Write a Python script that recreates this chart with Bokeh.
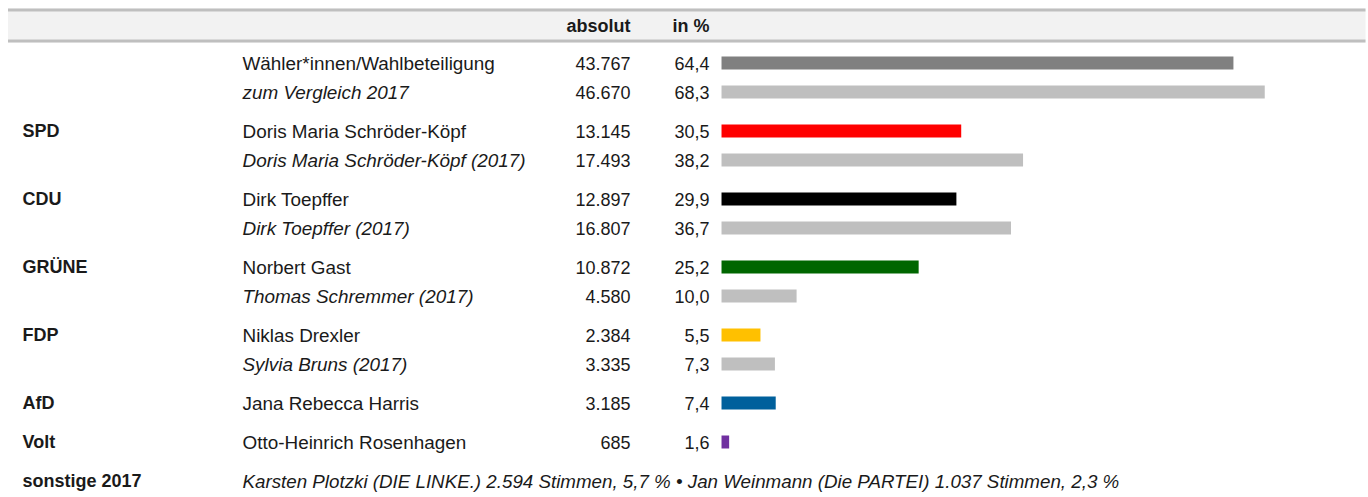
from bokeh.plotting import figure
from bokeh.models import Range1d, ColumnDataSource
from bokeh.core.properties import value
from bokeh.embed import file_html
from bokeh.resources import INLINE

# ---------------- data ----------------
parties = ["", "", "SPD", "", "CDU", "", "GRÜNE", "", "FDP", "", "AfD", "Volt"]
names = ["Wähler*innen/Wahlbeteiligung", "zum Vergleich 2017",
         "Doris Maria Schröder-Köpf", "Doris Maria Schröder-Köpf (2017)",
         "Dirk Toepffer", "Dirk Toepffer (2017)",
         "Norbert Gast", "Thomas Schremmer (2017)",
         "Niklas Drexler", "Sylvia Bruns (2017)",
         "Jana Rebecca Harris", "Otto-Heinrich Rosenhagen"]
absolut = [43767, 46670, 13145, 17493, 12897, 16807, 10872, 4580, 2384, 3335, 3185, 685]
percent = [64.4, 68.3, 30.5, 38.2, 29.9, 36.7, 25.2, 10.0, 5.5, 7.3, 7.4, 1.6]
is_2017 = [False, True, False, True, False, True, False, True, False, True, False, False]
groups = [0, 0, 1, 1, 2, 2, 3, 3, 4, 4, 5, 6]
colors = ["#808080", "#bfbfbf", "#ff0000", "#bfbfbf", "#000000", "#bfbfbf",
          "#006600", "#bfbfbf", "#ffc000", "#bfbfbf", "#00609c", "#7030a0"]
header_abs = "absolut"
header_pct = "in %"
footer_party = "sonstige 2017"
footer_text = "Karsten Plotzki (DIE LINKE.) 2.594 Stimmen, 5,7 % \u2022 Jan Weinmann (Die PARTEI) 1.037 Stimmen, 2,3 %"

# ---------------- layout ----------------
W, H = 1368, 497
FONT = value("Liberation Sans")
FS = "18px"
FS_NAME = "18.9px"
FS_FOOT = "18.75px"
TXT = "#1a1a1a"
X_PARTY, X_NAME, X_ABS, X_PCT = 22, 242, 630, 709
PCT_ZERO_PX, PX_PER_PCT = 715.8, 8.03
BAR_LEFT = 0.65
BAR_H = 13
Y_FIRST, ROW_STEP, GROUP_STEP = 62.5, 29, 39
BAND_L, BAND_R, BAND_T, BAND_B, BAND_LINE = 7.5, 1365, 8, 42, 3

def fmt_abs(v):
    return f"{v:,}".replace(",", ".")

def fmt_pct(v):
    return f"{v:.1f}".replace(".", ",")

# row y positions (pixels from top)
ys = []
y = Y_FIRST
for i, g in enumerate(groups):
    if i > 0:
        y += ROW_STEP if g == groups[i - 1] else GROUP_STEP
    ys.append(y)
y_footer = ys[-1] + GROUP_STEP
y_header = (BAND_T + BAND_B) / 2

p = figure(width=W, height=H, x_range=Range1d(0, W), y_range=Range1d(H, 0),
           output_backend="svg", toolbar_location=None, min_border=0,
           x_axis_type=None, y_axis_type=None)
p.xgrid.visible = False
p.ygrid.visible = False
p.outline_line_color = None
p.background_fill_color = "white"
p.border_fill_color = "white"
p.extra_x_ranges = {"pct": Range1d(-PCT_ZERO_PX / PX_PER_PCT, (W - PCT_ZERO_PX) / PX_PER_PCT)}

# header band
p.quad(left=[BAND_L], right=[BAND_R], top=[BAND_T], bottom=[BAND_B],
       fill_color="#f2f2f2", line_color=None)
p.quad(left=[BAND_L, BAND_L], right=[BAND_R, BAND_R],
       top=[BAND_T, BAND_B - BAND_LINE], bottom=[BAND_T + BAND_LINE, BAND_B],
       fill_color="#bfbfbf", line_color=None)
p.text(x=[X_ABS], y=[y_header], text=[header_abs], text_align="right", text_baseline="middle",
       text_font=FONT, text_font_size=FS, text_font_style="bold", text_color=TXT)
p.text(x=[X_PCT], y=[y_header], text=[header_pct], text_align="right", text_baseline="middle",
       text_font=FONT, text_font_size=FS, text_font_style="bold", text_color=TXT)

src = ColumnDataSource(dict(
    y=ys, party=parties, name=names,
    abs_txt=[fmt_abs(v) for v in absolut],
    pct_txt=[fmt_pct(v) for v in percent],
    pct=percent, color=colors,
    style=["italic" if f else "normal" for f in is_2017],
))

p.hbar(y="y", left=BAR_LEFT, right="pct", height=BAR_H, fill_color="color",
       line_color=None, source=src, x_range_name="pct")

p.text(x=X_PARTY, y="y", text="party", source=src, text_align="left", text_baseline="middle",
       text_font=FONT, text_font_size=FS, text_font_style="bold", text_color=TXT)
p.text(x=X_NAME, y="y", text="name", source=src, text_align="left", text_baseline="middle",
       text_font=FONT, text_font_size=FS_NAME, text_font_style="style", text_color=TXT)
p.text(x=X_ABS, y="y", text="abs_txt", source=src, text_align="right", text_baseline="middle",
       text_font=FONT, text_font_size=FS, text_color=TXT)
p.text(x=X_PCT, y="y", text="pct_txt", source=src, text_align="right", text_baseline="middle",
       text_font=FONT, text_font_size=FS, text_color=TXT)

p.text(x=[X_PARTY], y=[y_footer], text=[footer_party], text_align="left", text_baseline="middle",
       text_font=FONT, text_font_size=FS, text_font_style="bold", text_color=TXT)
p.text(x=[X_NAME], y=[y_footer], text=[footer_text], text_align="left", text_baseline="middle",
       text_font=FONT, text_font_size=FS_FOOT, text_font_style="italic", text_color=TXT)

open("out.html", "w").write(file_html(p, INLINE))
